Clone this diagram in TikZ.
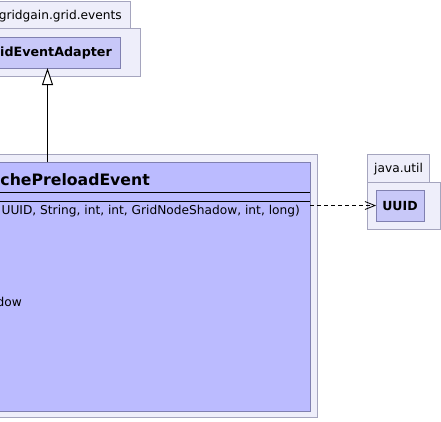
\documentclass[tikz,border=0pt]{standalone}
\usepackage{fontspec}
\setmainfont{DejaVu Sans}
\usetikzlibrary{arrows.meta}

\definecolor{pkgfill}{RGB}{238,238,250}
\definecolor{pkgline}{RGB}{165,165,190}
\definecolor{clsline}{RGB}{128,128,176}
\definecolor{basefill}{RGB}{200,200,248}
\definecolor{mainfill}{RGB}{187,187,255}

\begin{document}
\begin{tikzpicture}[x=1pt,y=-1pt,
    pkg/.style={draw=pkgline,fill=pkgfill,line width=1pt},
    cls/.style={draw=clsline,line width=1pt,anchor=north west,inner sep=0pt,outer sep=0pt},
    txt/.style={inner sep=0pt,font=\fontsize{12.2}{15}\selectfont},
    bold/.style={inner sep=0pt,font=\fontsize{12.7}{15}\selectfont\bfseries},
    inherit/.style={line width=1pt,-{Triangle[open,length=17pt,width=11pt,fill=white]}},
    depend/.style={line width=0.8pt,dash pattern=on 4pt off 3pt,-{Straight Barb[length=10pt,width=8pt]}}]
\clip (0,0) rectangle (441,421);
\fill[white] (0,0) rectangle (441,421);

% gridgain.grid.events
\draw[pkg] (-60,1) rectangle (130.5,28);
\draw[pkg] (-60,28) rectangle (140,76);
\node[cls,fill=basefill,minimum width=180.5pt,minimum height=31pt] (adapter) at (-60,37) {};
\node[txt,anchor=base east] (eventspkg) at (122,19) {gridgain.grid.events};
\node[bold,anchor=base east] (adaptername) at (112,56) {idEventAdapter};

% java.util
\draw[pkg] (367,154) rectangle (429,182);
\draw[pkg] (367,182) rectangle (440,229);
\node[cls,fill=basefill,minimum width=48pt,minimum height=31pt] (uuid) at (376,190) {};
\node[txt,anchor=base west] (utilpkg) at (374,172) {java.util};
\node[bold,anchor=base,font=\fontsize{12.5}{15}\selectfont\bfseries] (uuidname) at (uuid.center |- 0,210) {UUID};

% the event class
\draw[pkg] (-60,154) rectangle (317,417);
\node[cls,fill=mainfill,minimum width=370pt,minimum height=249pt] (event) at (-60,162) {};
\node[bold,anchor=base east,font=\fontsize{15.7}{19}\selectfont\bfseries] (eventname) at (150,185) {chePreloadEvent};
\foreach \y in {192,201}
  \draw[line width=0.8pt] (event.west |- 0,\y) -- (event.east |- 0,\y);
\node[txt,anchor=base east] (ctor) at (300,214) {UUID, String, int, int, GridNodeShadow, int, long)};
\node[txt,anchor=base east] (method) at (22,306) {dow};

% connectors
\coordinate (inh) at (47.5,0);
\draw[inherit] (event.north -| inh) -- (adapter.south -| inh);
\draw[depend] (event.east |- uuid.west) -- (uuid.west);
\end{tikzpicture}
\end{document}
